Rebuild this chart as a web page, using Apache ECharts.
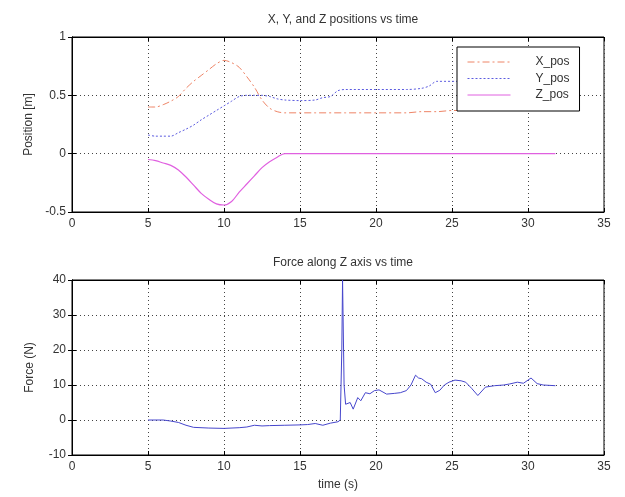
<!DOCTYPE html>
<html>
<head>
<meta charset="UTF-8">
<title>Positions and force vs time</title>
<script src="https://cdn.jsdelivr.net/npm/echarts@6/dist/echarts.min.js"></script>
<style>
  html, body { margin: 0; padding: 0; background: #fff; }
  #chart { width: 625px; height: 497px; }
</style>
</head>
<body>
<div id="chart"></div>
<script>
var xTime = [5, 5.5, 6, 6.5, 7, 7.5, 8, 8.5, 9, 9.5, 10, 10.5, 11, 11.5, 12, 12.5, 13, 13.5, 14, 16, 18, 20, 22, 23, 24, 25, 27, 29, 31.8];
var xPos  = [0.40, 0.40, 0.42, 0.45, 0.49, 0.56, 0.62, 0.67, 0.72, 0.77, 0.80, 0.78, 0.74, 0.66, 0.57, 0.46, 0.39, 0.36, 0.35, 0.35, 0.35, 0.35, 0.35, 0.36, 0.36, 0.37, 0.37, 0.37, 0.37];

var yTime = [5, 5.5, 6, 6.5, 7, 7.5, 8, 8.5, 9, 9.5, 10, 10.5, 11, 11.5, 12, 12.5, 13, 13.5, 14, 15, 16, 16.5, 17, 17.5, 18, 20, 22, 23, 23.5, 24, 26, 28, 30, 31.8];
var yPos  = [0.16, 0.15, 0.15, 0.15, 0.18, 0.21, 0.245, 0.29, 0.33, 0.37, 0.41, 0.45, 0.49, 0.50, 0.50, 0.50, 0.49, 0.47, 0.46, 0.455, 0.46, 0.48, 0.49, 0.54, 0.55, 0.55, 0.55, 0.56, 0.58, 0.62, 0.62, 0.62, 0.62, 0.62];

var zTime = [5, 5.5, 6, 6.5, 7, 7.5, 8, 8.5, 9, 9.5, 10, 10.5, 11, 11.5, 12, 12.5, 13, 13.5, 14, 16, 20, 25, 31.8];
var zPos  = [-0.05, -0.06, -0.08, -0.10, -0.14, -0.20, -0.27, -0.34, -0.39, -0.43, -0.44, -0.41, -0.33, -0.26, -0.19, -0.12, -0.07, -0.03, 0, 0, 0, 0, 0];

var fTime  = [5, 6, 6.5, 7, 7.5, 8, 9, 10, 11, 11.5, 12, 12.5, 13, 14, 15, 15.5, 16, 16.5, 17, 17.5, 17.65, 17.75, 17.8, 17.9, 18, 18.3, 18.5, 18.8, 19, 19.3, 19.6, 19.9, 20.2, 20.7, 21.2, 21.6, 22, 22.3, 22.6, 22.8, 23, 23.3, 23.6, 23.9, 24.2, 24.5, 24.8, 25.2, 25.6, 25.9, 26.3, 26.7, 27.2, 27.8, 28.4, 28.8, 29.3, 29.7, 30.2, 30.6, 31, 31.8];
var fForce = [0, 0, -0.3, -0.7, -1.5, -2.1, -2.3, -2.4, -2.2, -2.0, -1.5, -1.7, -1.6, -1.5, -1.4, -1.3, -1.0, -1.5, -0.9, -0.5, 0, 20, 40, 10, 4.5, 5, 3.1, 6.4, 5.5, 7.8, 7.5, 8.4, 8.6, 7.4, 7.6, 7.8, 8.4, 10, 12.8, 12, 11.8, 10.8, 10.2, 7.8, 8.5, 10, 10.8, 11.4, 11.2, 10.8, 9, 7, 9.4, 9.8, 10, 10.3, 10.8, 10.5, 12, 10.4, 10, 9.8];

var posTicks = { min: -0.5, max: 1, interval: 0.5 };
var forceTicks = { min: -10, max: 40, interval: 10 };
var timeTicks = { min: 0, max: 35, interval: 5 };

function pairs(t, v) {
  return t.map(function (x, i) { return [x, v[i]]; });
}

var font = 'Liberation Sans, Arial, sans-serif';
var txt = '#333';

function xAx(idx, name) {
  return {
    type: 'value', gridIndex: idx,
    min: timeTicks.min, max: timeTicks.max, interval: timeTicks.interval,
    name: name || '', nameLocation: 'middle', nameGap: 24,
    nameTextStyle: { color: txt, fontSize: 12, fontFamily: font },
    axisLine: { onZero: false, lineStyle: { color: '#000' } },
    axisTick: { inside: true, length: 4, lineStyle: { color: '#000' } },
    axisLabel: { color: txt, fontSize: 12, fontFamily: font, margin: 6 },
    splitLine: { show: true, lineStyle: { color: '#444', type: [1, 3] } }
  };
}
function yAx(idx, ticks, name) {
  return {
    type: 'value', gridIndex: idx,
    min: ticks.min, max: ticks.max, interval: ticks.interval,
    name: name, nameLocation: 'middle', nameGap: 36,
    nameTextStyle: { color: txt, fontSize: 12, fontFamily: font },
    axisLine: { show: true, lineStyle: { color: '#000' } },
    axisTick: { show: true, inside: true, length: 4, lineStyle: { color: '#000' } },
    axisLabel: { color: txt, fontSize: 12, fontFamily: font, margin: 6 },
    splitLine: { show: true, lineStyle: { color: '#444', type: [1, 3] } }
  };
}
// tick marks on the top and right edges of each box
function tickOnly(base, pos) {
  base.position = pos;
  base.name = '';
  base.axisLabel = { show: false };
  base.splitLine = { show: false };
  return base;
}

var chart = echarts.init(document.getElementById('chart'));
chart.setOption({
  backgroundColor: '#fff',
  animation: false,
  title: [
    { text: 'X, Y, and Z positions vs time', left: 338, top: 9, textAlign: 'center',
      textStyle: { fontSize: 12, fontWeight: 'normal', color: txt, fontFamily: font } },
    { text: 'Force along Z axis vs time', left: 338, top: 252, textAlign: 'center',
      textStyle: { fontSize: 12, fontWeight: 'normal', color: txt, fontFamily: font } }
  ],
  legend: {
    data: ['X_pos', 'Y_pos', 'Z_pos'],
    orient: 'vertical',
    left: 457, top: 47,
    backgroundColor: '#fff',
    borderColor: '#000', borderWidth: 1,
    padding: [9, 10, 10, 10],
    itemWidth: 43, itemHeight: 14, itemGap: 4.5,
    itemStyle: { opacity: 0 },
    lineStyle: { width: 1 },
    textStyle: { color: txt, fontSize: 12, fontFamily: font, padding: [0, 0, 0, 20] }
  },
  grid: [
    { left: 72, right: 21, top: 37, height: 175, show: true, borderColor: '#000', borderWidth: 1 },
    { left: 72, right: 21, top: 280, height: 175, show: true, borderColor: '#000', borderWidth: 1 }
  ],
  xAxis: [xAx(0), xAx(1, 'time (s)'), tickOnly(xAx(0), 'top'), tickOnly(xAx(1), 'top')],
  yAxis: [yAx(0, posTicks, 'Position [m]'), yAx(1, forceTicks, 'Force (N)'),
          tickOnly(yAx(0, posTicks, ''), 'right'), tickOnly(yAx(1, forceTicks, ''), 'right')],
  series: [
    { name: 'X_pos', type: 'line', xAxisIndex: 0, yAxisIndex: 0, symbol: 'none', smooth: 0.3,
      data: pairs(xTime, xPos), color: '#ee8466',
      lineStyle: { width: 1, color: '#ee8466', type: [7, 3, 2, 3] } },
    { name: 'Y_pos', type: 'line', xAxisIndex: 0, yAxisIndex: 0, symbol: 'none', smooth: 0.3,
      data: pairs(yTime, yPos), color: '#5c5ce0',
      lineStyle: { width: 1, color: '#5c5ce0', type: [2, 2] } },
    { name: 'Z_pos', type: 'line', xAxisIndex: 0, yAxisIndex: 0, symbol: 'none', smooth: 0.3,
      data: pairs(zTime, zPos), color: '#e060e0',
      lineStyle: { width: 1.2, color: '#e060e0' } },
    { name: 'Force', type: 'line', xAxisIndex: 1, yAxisIndex: 1, symbol: 'none',
      data: pairs(fTime, fForce), color: '#4646cc',
      lineStyle: { width: 1, color: '#4646cc' } }
  ]
});
</script>
</body>
</html>
